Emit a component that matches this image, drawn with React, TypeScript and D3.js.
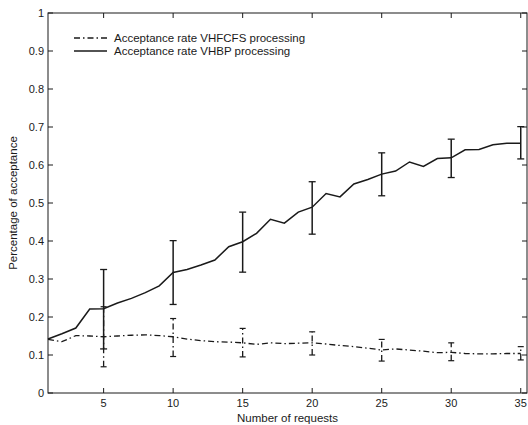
import React from "react";
import * as d3 from "d3";

const requests = d3.range(1, 36);
const vhbp = [0.142, 0.156, 0.171, 0.221, 0.222, 0.237, 0.249, 0.264, 0.282, 0.317,
  0.325, 0.337, 0.35, 0.385, 0.398, 0.42, 0.457, 0.447, 0.476, 0.489,
  0.525, 0.516, 0.55, 0.562, 0.576, 0.584, 0.608, 0.596, 0.617, 0.619,
  0.64, 0.641, 0.653, 0.657, 0.657];
const vhfcfs = [0.141, 0.135, 0.151, 0.15, 0.148, 0.15, 0.152, 0.153, 0.151, 0.148,
  0.142, 0.138, 0.135, 0.134, 0.132, 0.128, 0.132, 0.13, 0.131, 0.132,
  0.129, 0.125, 0.122, 0.118, 0.113, 0.116, 0.113, 0.11, 0.106, 0.107,
  0.104, 0.103, 0.103, 0.104, 0.104];
const errX = [5, 10, 15, 20, 25, 30, 35];
const vhbpLow = [0.116, 0.233, 0.318, 0.418, 0.519, 0.567, 0.616];
const vhbpHigh = [0.325, 0.401, 0.476, 0.556, 0.632, 0.668, 0.701];
const vhfcfsLow = [0.069, 0.096, 0.095, 0.1, 0.084, 0.085, 0.087];
const vhfcfsHigh = [0.227, 0.196, 0.17, 0.161, 0.141, 0.132, 0.122];
const xTicks = [5, 10, 15, 20, 25, 30, 35];
const yTicks = [0, 0.1, 0.2, 0.3, 0.4, 0.5, 0.6, 0.7, 0.8, 0.9, 1];
const yTickLabels = ["0", "0.1", "0.2", "0.3", "0.4", "0.5", "0.6", "0.7", "0.8", "0.9", "1"];
const legendLabels = ["Acceptance rate VHFCFS processing", "Acceptance rate VHBP processing"];

const W = 528, H = 425;
const L = 48, R = 527, T = 13, B = 393;
const font = "'Liberation Sans', Arial, sans-serif";
const dashDot = "6,3,1.5,3";

export default function App() {
  const x = d3.scaleLinear().domain([1, 35.45]).range([L, R]);
  const y = d3.scaleLinear().domain([0, 1]).range([B, T]);
  const line = d3.line<number>().x((_, i) => x(requests[i])).y((d) => y(d));
  const col = "#1a1a1a";
  return (
    <svg width={W} height={H} style={{ position: "absolute", left: 0, top: 0, background: "#fff" }}>
      {/* frame */}
      <rect x={L} y={T} width={R - L} height={B - T} fill="none" stroke={col} strokeWidth={1} />
      {xTicks.map((t) => (
        <g key={"xt" + t}>
          <line x1={x(t)} x2={x(t)} y1={B} y2={B - 5} stroke={col} />
          <line x1={x(t)} x2={x(t)} y1={T} y2={T + 5} stroke={col} />
          <text x={x(t)} y={407} fontSize={11} fontFamily={font} textAnchor="middle" fill={col}>{t}</text>
        </g>
      ))}
      {yTicks.map((t, i) => (
        <g key={"yt" + t}>
          <line x1={L} x2={L + 5} y1={y(t)} y2={y(t)} stroke={col} />
          <line x1={R} x2={R - 5} y1={y(t)} y2={y(t)} stroke={col} />
          <text x={44} y={y(t) + 4} fontSize={11} fontFamily={font} textAnchor="end" fill={col}>{yTickLabels[i]}</text>
        </g>
      ))}
      <text x={(L + R) / 2} y={422} fontSize={11.5} fontFamily={font} textAnchor="middle" fill={col}>Number of requests</text>
      <text transform={`translate(17,${(T + B) / 2}) rotate(-90)`} fontSize={11.5} fontFamily={font} textAnchor="middle" fill={col}>Percentage of acceptance</text>

      {/* VHFCFS */}
      <path d={line(vhfcfs) || ""} fill="none" stroke={col} strokeWidth={1.3} strokeDasharray={dashDot} />
      {errX.map((t, i) => (
        <g key={"ef" + t}>
          <line x1={x(t)} x2={x(t)} y1={y(vhfcfsLow[i])} y2={y(vhfcfsHigh[i])} stroke={col} strokeWidth={1.3} strokeDasharray={dashDot} />
          <line x1={x(t) - 3} x2={x(t) + 3} y1={y(vhfcfsLow[i])} y2={y(vhfcfsLow[i])} stroke={col} strokeWidth={1.2} />
          <line x1={x(t) - 3} x2={x(t) + 3} y1={y(vhfcfsHigh[i])} y2={y(vhfcfsHigh[i])} stroke={col} strokeWidth={1.2} />
        </g>
      ))}
      {/* VHBP */}
      <path d={line(vhbp) || ""} fill="none" stroke={col} strokeWidth={1.5} />
      {errX.map((t, i) => (
        <g key={"eb" + t}>
          <line x1={x(t)} x2={x(t)} y1={y(vhbpLow[i])} y2={y(vhbpHigh[i])} stroke={col} strokeWidth={1.5} />
          <line x1={x(t) - 3.5} x2={x(t) + 3.5} y1={y(vhbpLow[i])} y2={y(vhbpLow[i])} stroke={col} strokeWidth={1.3} />
          <line x1={x(t) - 3.5} x2={x(t) + 3.5} y1={y(vhbpHigh[i])} y2={y(vhbpHigh[i])} stroke={col} strokeWidth={1.3} />
        </g>
      ))}

      {/* legend */}
      <line x1={74} x2={107} y1={38} y2={38} stroke={col} strokeWidth={1.3} strokeDasharray={dashDot} />
      <text x={114} y={42} fontSize={11.5} fontFamily={font} fill={col}>{legendLabels[0]}</text>
      <line x1={74} x2={107} y1={51} y2={51} stroke={col} strokeWidth={1.5} />
      <text x={114} y={55} fontSize={11.5} fontFamily={font} fill={col}>{legendLabels[1]}</text>
    </svg>
  );
}
